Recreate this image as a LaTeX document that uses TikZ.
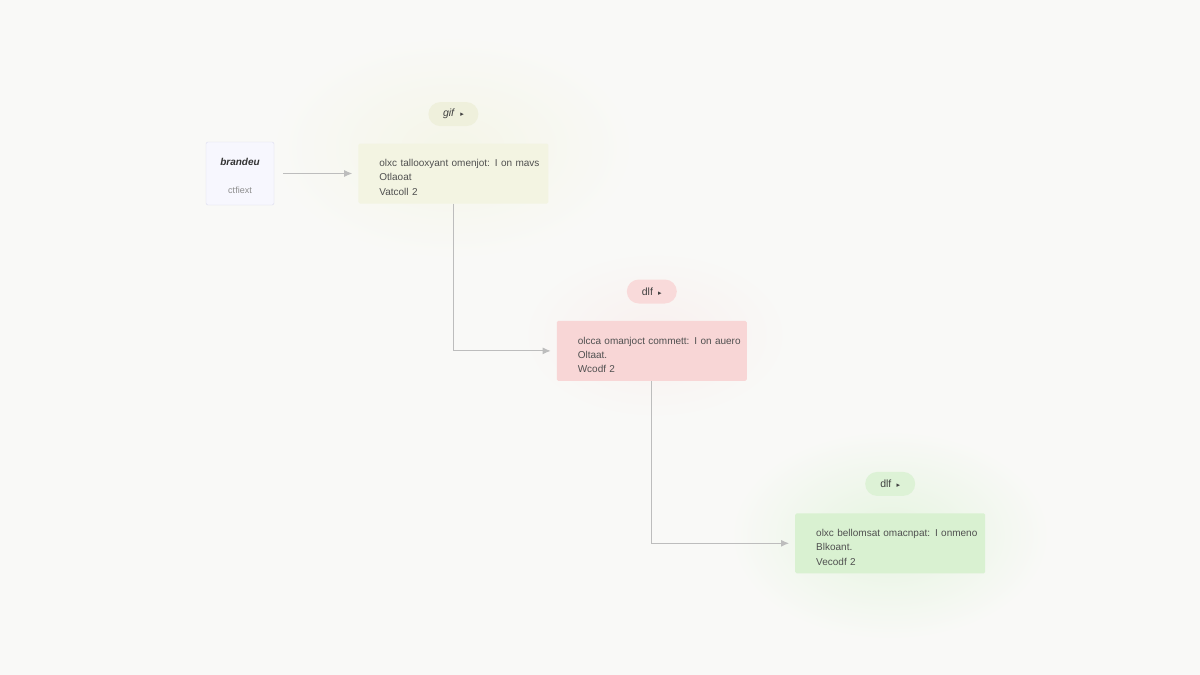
\documentclass[tikz,border=0pt]{standalone}
\usepackage{fontspec}
\setmainfont{Liberation Sans}
\newfontfamily\symfont{DejaVu Sans}
\usepackage{tikz}
\usetikzlibrary{shapes,arrows,arrows.meta,positioning}
\definecolor{pagebg}{HTML}{F9F9F7}
\definecolor{srcfill}{HTML}{F7F7FE}
\definecolor{srcline}{HTML}{DCDCEE}
\definecolor{olivefill}{HTML}{F3F4E2}
\definecolor{olivepill}{HTML}{EFF0DC}
\definecolor{rosefill}{HTML}{F8D6D6}
\definecolor{rosepill}{HTML}{F9DADA}
\definecolor{mintfill}{HTML}{D9F1D1}
\definecolor{mintpill}{HTML}{DDF2D6}
\definecolor{wiregray}{HTML}{BDBDBD}
\definecolor{inkgray}{HTML}{505050}
\newcommand{\stagelines}[3]{\rule{0pt}{15pt}\hspace*{21pt}#1\\\hspace*{21pt}#2\\\hspace*{21pt}#3}

\begin{document}
\begin{tikzpicture}[x=1pt, y=-1pt, >={Latex[length=8pt,width=7pt]},
    stagebox/.style={rectangle, rounded corners=1.5pt, minimum width=190pt, minimum height=60pt,
      text width=190pt, inner xsep=0pt, inner ysep=1pt, align=left, text=inkgray,
      font=\fontsize{10}{14.3}\selectfont},
    tagpill/.style={rectangle, rounded corners=12pt, minimum width=50pt, minimum height=24pt,
      text=black!75, font=\fontsize{10.5}{12}\selectfont},
    wire/.style={->, draw=wiregray, line width=0.9pt, shorten >=6pt}]
  \useasboundingbox (0,0) rectangle (1200,675);
  \fill[pagebg] (0,0) rectangle (1200,675);
  % soft glows behind the stages
  \shade[inner color=olivefill!70!pagebg, outer color=pagebg] (270,35) rectangle (635,260);
  \shade[inner color=rosefill!25!pagebg, outer color=pagebg] (520,250) rectangle (790,420);
  \shade[inner color=mintfill!60!pagebg, outer color=pagebg] (730,430) rectangle (1050,640);

  \node[draw=srcline, fill=srcfill, rounded corners=2pt, minimum width=68pt, minimum height=63pt,
    align=center, font=\fontsize{10}{12}\selectfont] (brandeu) at (240,173.5)
    {\rule{0pt}{13pt}\textit{\textbf{\color{black!80}brandeu}}\\[16pt]{\color{black!45}\fontsize{9}{11}\selectfont ctfiext}};
  \node[stagebox, fill=olivefill, right=84pt of brandeu] (gif)
    {\stagelines{olxc tallooxyant omenjot: I on mavs}{Otlaoat}{Vatcoll 2}};
  \node[stagebox, fill=rosefill, below right=117pt and 8pt of gif.south east] (dlfrose)
    {\stagelines{olcca omanjoct commett: I on auero}{Oltaat.}{Wcodf 2}};
  \node[stagebox, fill=mintfill, below right=132pt and 48pt of dlfrose.south east] (dlfmint)
    {\stagelines{olxc bellomsat omacnpat: I onmeno}{Blkoant.}{Vecodf 2}};

  \node[tagpill, fill=olivepill, above=17pt of gif] (gifpill) {\textit{gif}\enspace{\symfont\scriptsize ▸}};
  \node[tagpill, fill=rosepill, above=17pt of dlfrose] (rosepill) {dlf\enspace{\symfont\scriptsize ▸}};
  \node[tagpill, fill=mintpill, above=17pt of dlfmint] (mintpill) {dlf\enspace{\symfont\scriptsize ▸}};

  \draw[wire, shorten <=9pt] (brandeu) -- (gif);
  \draw[wire] (gif) |- (dlfrose);
  \draw[wire] (dlfrose) |- (dlfmint);
\end{tikzpicture}
\end{document}
